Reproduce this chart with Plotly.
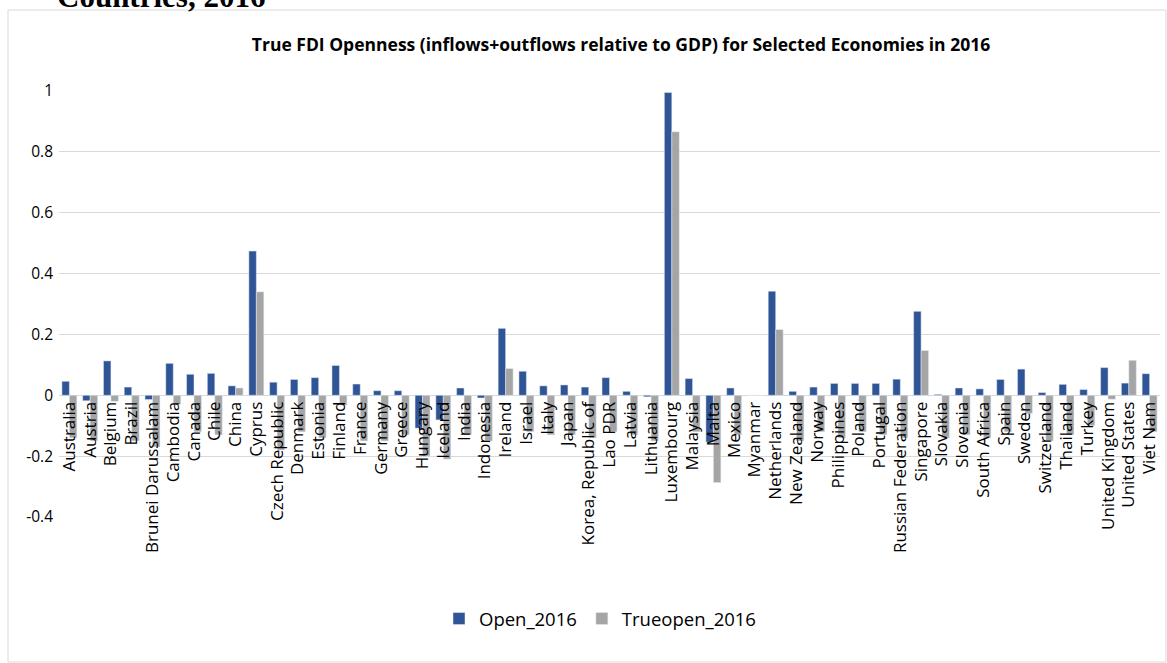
import plotly.graph_objects as go

countries = ["Australia", "Austria", "Belgium", "Brazil", "Brunei Darussalam", "Cambodia", "Canada",
             "Chile", "China", "Cyprus", "Czech Republic", "Denmark", "Estonia", "Finland", "France",
             "Germany", "Greece", "Hungary", "Iceland", "India", "Indonesia", "Ireland", "Israel",
             "Italy", "Japan", "Korea, Republic of", "Lao PDR", "Latvia", "Lithuania", "Luxembourg",
             "Malaysia", "Malta", "Mexico", "Myanmar", "Netherlands", "New Zealand", "Norway",
             "Philippines", "Poland", "Portugal", "Russian Federation", "Singapore", "Slovakia",
             "Slovenia", "South Africa", "Spain", "Sweden", "Switzerland", "Thailand", "Turkey",
             "United Kingdom", "United States", "Viet Nam"]

open_2016 = [0.046, -0.018, 0.113, 0.027, -0.014, 0.105, 0.069,
             0.072, 0.031, 0.474, 0.043, 0.052, 0.058, 0.098, 0.037,
             0.015, 0.015, -0.108, -0.081, 0.024, -0.009, 0.220, 0.079,
             0.031, 0.034, 0.027, 0.058, 0.013, -0.005, 0.995,
             0.055, -0.154, 0.024, 0.0, 0.342, 0.013, 0.027,
             0.039, 0.039, 0.039, 0.053, 0.276, 0.003,
             0.024, 0.021, 0.052, 0.086, 0.009, 0.036, 0.019,
             0.091, 0.040, 0.071]

trueopen_2016 = [-0.14, -0.15, -0.02, -0.15, -0.17, -0.03, -0.12,
                 -0.13, 0.024, 0.340, -0.18, -0.12, -0.14, -0.033, -0.15,
                 -0.15, -0.13, -0.20, -0.21, -0.13, -0.15, 0.088, -0.12,
                 -0.13, -0.13, -0.14, -0.12, -0.13, -0.15, 0.866,
                 -0.12, -0.287, -0.13, 0.0, 0.216, -0.15, -0.12,
                 -0.14, -0.12, -0.13, -0.14, 0.147, -0.14,
                 -0.13, -0.14, -0.12, -0.06, -0.15, -0.13, -0.10,
                 -0.013, 0.115, -0.12]

y_ticks = [-0.4, -0.2, 0, 0.2, 0.4, 0.6, 0.8, 1]
y_tick_text = ["-0.4", "-0.2", "0", "0.2", "0.4", "0.6", "0.8", "1"]

BLUE = "#2F5597"
GRAY = "#A5A5A5"
y_min, y_max = -0.4, 1.0

fig = go.Figure()
fig.add_trace(go.Bar(x=countries, y=open_2016, name="Open_2016", marker=dict(color=BLUE)))
fig.add_trace(go.Bar(x=countries, y=trueopen_2016, name="Trueopen_2016", marker=dict(color=GRAY)))

W, H = 1167, 663
ml, mr, mt, mb = 59, 7, 91, 146
pw, ph = W - ml - mr, H - mt - mb

def px_x(p):
    return (p - ml) / pw

def px_y(p):
    return (H - mb - p) / ph

fig.update_layout(
    width=W, height=H,
    margin=dict(l=ml, r=mr, t=mt, b=mb),
    paper_bgcolor="white", plot_bgcolor="white",
    barmode="group", bargap=0.28, bargroupgap=0,
    font=dict(family="Open Sans", color="#000000"),
    title=dict(text="<b>True FDI Openness (inflows+outflows relative to GDP) for Selected Economies in 2016</b>",
               x=621 / W, xanchor="center", y=1 - 45 / H, yanchor="middle",
               font=dict(family="Open Sans", size=17.5, color="#000000")),
    xaxis=dict(anchor="free", position=(0 - y_min) / (y_max - y_min), tickangle=-90,
               tickmode="array", tickvals=countries, ticktext=countries,
               showline=False, ticks="", showgrid=False, ticklabelstandoff=2,
               tickfont=dict(family="Open Sans", size=17, color="#000000"), automargin=False),
    yaxis=dict(range=[y_min, y_max], tickvals=y_ticks, ticktext=y_tick_text,
               showgrid=True, gridcolor="#D9D9D9", gridwidth=1, zeroline=True,
               zerolinecolor="#D9D9D9", zerolinewidth=1, showline=False, ticks="",
               ticklabelstandoff=5,
               tickfont=dict(family="Open Sans", size=15.5, color="#000000"), automargin=False),
    legend=dict(orientation="h", x=px_x(600), xanchor="center", y=px_y(619), yanchor="middle",
                font=dict(family="Open Sans", size=18.5, color="#000000"), traceorder="normal",
                itemclick=False),
    showlegend=True,
)

fig.add_shape(type="rect", xref="paper", yref="paper",
              x0=px_x(8), x1=px_x(1166), y0=px_y(662), y1=px_y(10),
              line=dict(color="#D9D9D9", width=1), fillcolor="rgba(0,0,0,0)", layer="below")

fig.add_annotation(text="<b>Countries, 2016</b>", xref="paper", yref="paper",
                   x=px_x(55), y=px_y(16), xanchor="left", yanchor="bottom", showarrow=False,
                   font=dict(family="Liberation Serif", size=31, color="#000000"))

fig.write_html("out.html")
